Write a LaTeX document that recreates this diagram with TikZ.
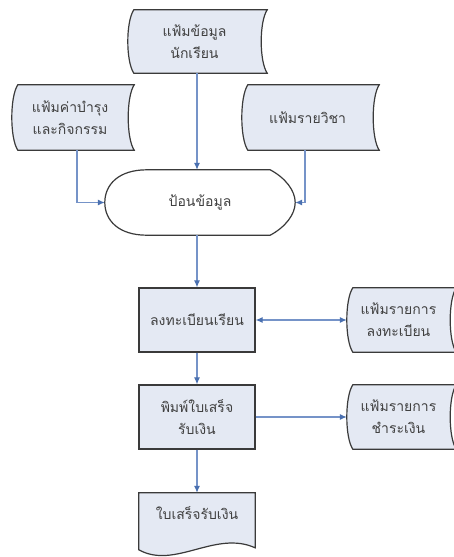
\documentclass[tikz,border=0pt]{standalone}
\usepackage{fontspec}
\newfontfamily\thaifont[Script=Thai]{Loma}
\usetikzlibrary{arrows.meta,calc}
\pgfdeclarelayer{bg}
\pgfsetlayers{bg,main}
\definecolor{boxfill}{HTML}{E4E9F3}
\definecolor{boxline}{HTML}{3A3A3A}
\definecolor{arr}{HTML}{7593C8}
\definecolor{arrhead}{HTML}{4A70B0}
\definecolor{txt}{HTML}{404040}
\tikzset{
  lbl/.style={inner sep=0pt, align=center, text=txt,
    font=\thaifont\fontsize{14}{22}\selectfont},
  shp/.style={draw=boxline, fill=boxfill, line width=1.2pt},
  flow/.style={draw=arr, line width=1.1pt, -{Latex[length=7pt,width=6pt,color=arrhead]}},
  flowboth/.style={draw=arr, line width=1.1pt, {Latex[length=7pt,width=6pt,color=arrhead]}-{Latex[length=7pt,width=6pt,color=arrhead]}},
}
\newcommand\stdata[1]{%
  \draw[shp] ($(#1.north west)+(6,0)$) -- ($(#1.north east)+(6,0)$)
    .. controls ($(#1.north east)+(-2,12)$) and ($(#1.south east)+(-2,-12)$) .. ($(#1.south east)+(6,0)$)
    -- ($(#1.south west)+(6,0)$)
    .. controls ($(#1.south west)+(-2,-12)$) and ($(#1.north west)+(-2,12)$) .. cycle;}
\begin{document}
\begin{tikzpicture}[x=1pt,y=-1pt]
\clip (0,0) rectangle (454,557);
% nodes
\node[lbl, minimum width=133pt, minimum height=63pt] (stu) at (194.5,41.5) {แฟ้มข้อมูล\\นักเรียน};
\node[lbl, minimum width=116pt, minimum height=65pt] (fee) at (70,117.5) {แฟ้มค่าบำรุง\\และกิจกรรม};
\node[lbl, minimum width=131pt, minimum height=65pt] (subj) at (307.5,117.5) {แฟ้มรายวิชา};
\node[lbl, minimum width=190pt, minimum height=65pt] (inp) at (200,202.5) {ป้อนข้อมูล};
\node[lbl, shp, minimum width=116pt, minimum height=64pt] (reg) at (197,320) {ลงทะเบียนเรียน};
\node[lbl, minimum width=103pt, minimum height=64pt] (regfile) at (398.5,320) {แฟ้มรายการ\\ลงทะเบียน};
\node[lbl, shp, minimum width=116pt, minimum height=64pt] (print) at (197,417) {พิมพ์ใบเสร็จ\\รับเงิน};
\node[lbl, minimum width=103pt, minimum height=64pt] (payfile) at (398.5,417) {แฟ้มรายการ\\ชำระเงิน};
\node[lbl, minimum width=116pt, minimum height=40pt] (doc) at (197,513) {ใบเสร็จรับเงิน};
% shapes
\begin{pgfonlayer}{bg}
\fill[white] (0,0) rectangle (454,557);
\stdata{stu}
\stdata{fee}
\stdata{subj}
\stdata{regfile}
\stdata{payfile}
\draw[shp, fill=white] ($(inp.north west)+(42,0)$) -- ($(inp.north east)+(-25,0)$)
  .. controls ($(inp.north east)+(-10,8)$) and ($(inp.east)+(0,-12)$) .. (inp.east)
  .. controls ($(inp.east)+(0,12)$) and ($(inp.south east)+(-10,-8)$) .. ($(inp.south east)+(-25,0)$)
  -- ($(inp.south west)+(42,0)$)
  .. controls ($(inp.south west)+(14,0)$) and ($(inp.west)+(0,18)$) .. (inp.west)
  .. controls ($(inp.west)+(0,-18)$) and ($(inp.north west)+(14,0)$) .. cycle;
\draw[shp] (doc.north west) -- (doc.north east) -- ($(doc.north east)+(0,55)$)
  .. controls ($(doc.north east)+(-40,37)$) and ($(doc.north west)+(36,77)$) .. ($(doc.north west)+(0,57)$) -- cycle;
\end{pgfonlayer}
% connectors
\draw[flow] ([xshift=2.5pt]stu.south) -- ([xshift=2.5pt]stu.south |- inp.north);
\draw[flow] ([xshift=7pt]fee.south) |- (inp.west);
\draw[flow] ([xshift=-2.5pt]subj.south) |- (inp.east);
\draw[flow] (reg.north |- inp.south) -- (reg.north);
\draw[flowboth] (reg.east) -- (regfile.west);
\draw[flow] (reg.south) -- (print.north);
\draw[flow] (print.east) -- (payfile.west);
\draw[flow] (print.south) -- (doc.north);
\end{tikzpicture}
\end{document}
